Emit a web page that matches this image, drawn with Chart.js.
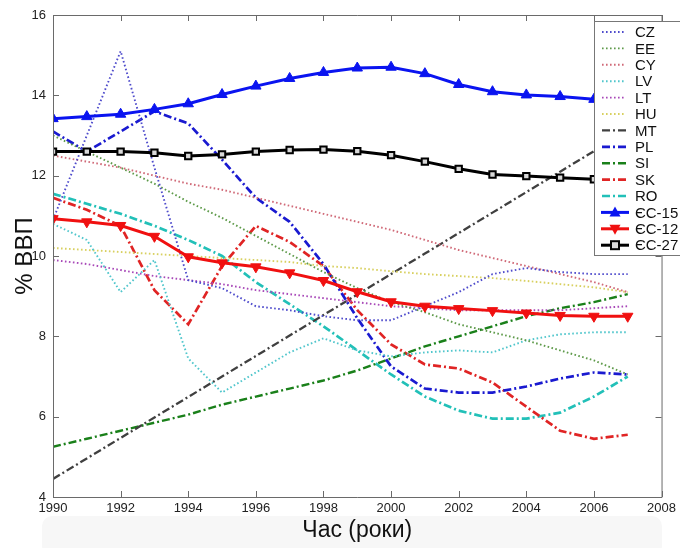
<!DOCTYPE html>
<html>
<head>
<meta charset="utf-8">
<script src="https://cdn.jsdelivr.net/npm/chart.js@4.4.1/dist/chart.umd.min.js"></script>
<style>
  html,body{margin:0;padding:0;background:#fff;}
  #wrap{width:680px;height:548px;}
</style>
</head>
<body>
<div id="wrap"><canvas id="myChart" width="680" height="548"></canvas></div>
<script>
'use strict';

// роки
let years=[1990,1991,1992,1993,1994,1995,1996,1997,1998,1999,2000,2001,2002,2003,2004,2005,2006,2007];

// % ВВП по країнах
let cz=[10.9,13.0,15.1,12.2,9.4,9.2,8.75,8.65,8.5,8.4,8.4,8.75,9.1,9.55,9.7,9.6,9.55,9.55];
let ee=[13.0,12.6,12.2,11.8,11.35,10.95,10.5,10.05,9.6,9.2,8.85,8.6,8.3,8.1,7.9,7.65,7.4,7.05];
let cy=[12.5,12.35,12.2,12.0,11.8,11.65,11.45,11.25,11.05,10.85,10.65,10.4,10.15,9.95,9.75,9.55,9.35,9.1];
let lv=[10.8,10.4,9.1,9.9,7.45,6.6,7.1,7.6,7.95,7.65,7.5,7.6,7.65,7.6,7.9,8.05,8.1,8.1];
let lt=[9.9,9.8,9.65,9.5,9.4,9.3,9.15,9.05,8.95,8.85,8.75,8.7,8.65,8.65,8.65,8.65,8.7,8.75];
let hu=[10.2,10.15,10.1,10.05,10.0,9.95,9.9,9.85,9.75,9.7,9.62,9.55,9.5,9.45,9.38,9.3,9.22,9.1];
let mt=[4.45,4.96,5.47,5.98,6.49,7.0,7.51,8.02,8.53,9.04,9.55,10.06,10.57,11.08,11.59,12.1,12.61,13.12];
let pl=[13.1,12.6,13.1,13.6,13.3,12.4,11.45,10.85,9.8,8.45,7.25,6.7,6.6,6.6,6.75,6.95,7.1,7.05];
let si=[5.25,5.45,5.65,5.85,6.05,6.3,6.5,6.7,6.9,7.15,7.45,7.75,8.0,8.25,8.5,8.7,8.85,9.05];
let sk=[11.45,11.15,10.75,9.15,8.3,9.75,10.75,10.35,9.75,8.65,7.8,7.3,7.2,6.85,6.25,5.65,5.45,5.55];
let ro=[11.55,11.3,11.05,10.75,10.4,10.0,9.35,8.8,8.25,7.65,7.05,6.5,6.15,5.95,5.95,6.1,6.5,7.0];
let eu15=[13.42,13.47,13.53,13.65,13.79,14.02,14.23,14.42,14.57,14.68,14.7,14.54,14.27,14.09,14.01,13.97,13.9,13.85];
let eu12=[10.93,10.85,10.76,10.49,9.98,9.83,9.73,9.58,9.39,9.11,8.86,8.75,8.69,8.64,8.58,8.52,8.5,8.5];
let eu27=[12.6,12.6,12.6,12.57,12.49,12.53,12.6,12.64,12.65,12.61,12.51,12.35,12.17,12.03,11.99,11.95,11.91,11.9];

let xTicks=[1990,1992,1994,1996,1998,2000,2002,2004,2006,2008];
let yTicks=[4,6,8,10,12,14,16];

let dotted=[1.6,2.4];
let dashDot=[8,3,2,3];

function points(values){
  let arr=[];
  for(let i=0;i<years.length;i++){
    arr.push({x:years[i],y:values[i]});
  }
  return arr;
}

function line(label,values,color,dash,width){
  return {
    label:label,
    data:points(values),
    borderColor:color,
    backgroundColor:color,
    borderDash:dash,
    borderWidth:width,
    pointRadius:0,
    fill:false,
    tension:0,
    order:1
  };
}

function euLine(label,values,color,style,rotation,fillColor){
  return {
    label:label,
    data:points(values),
    borderColor:color,
    backgroundColor:color,
    borderWidth:3,
    pointStyle:style,
    pointRotation:rotation,
    pointRadius:style=='rect'?4.5:6,
    pointBorderWidth:style=='rect'?2:1,
    pointBackgroundColor:fillColor,
    pointBorderColor:color,
    fill:false,
    tension:0,
    order:0
  };
}

let datasets=[
  line('CZ',cz,'#4f4ccc',dotted,1.9),
  line('EE',ee,'#5e9a4a',dotted,1.9),
  line('CY',cy,'#d06a78',dotted,1.9),
  line('LV',lv,'#50c6cc',dotted,1.9),
  line('LT',lt,'#a848b8',dotted,1.9),
  line('HU',hu,'#d8d060',dotted,1.9),
  line('MT',mt,'#404040',dashDot,2.3),
  line('PL',pl,'#1a1ad0',dashDot,2.7),
  line('SI',si,'#1a801a',dashDot,2.4),
  line('SK',sk,'#e02424',dashDot,2.7),
  line('RO',ro,'#22c0b8',dashDot,2.7),
  euLine('ЄС-15',eu15,'#0a14f0','triangle',0,'#0a14f0'),
  euLine('ЄС-12',eu12,'#f01010','triangle',180,'#f01010'),
  euLine('ЄС-27',eu27,'#000000','rect',0,'#d8d8d8')
];

// рамка, внутрішні поділки, сіра смуга під підписом осі
const framePlugin={
  id:'frame',
  beforeDraw(chart){
    let ctx=chart.ctx;
    ctx.save();
    ctx.fillStyle='#f7f7f7';
    ctx.beginPath();
    ctx.roundRect(42,516,620,40,10);
    ctx.fill();
    ctx.restore();
  },
  afterDatasetsDraw(chart){
    let ctx=chart.ctx;
    let a=chart.chartArea;
    let xs=chart.scales.x, ys=chart.scales.y;
    ctx.save();
    ctx.strokeStyle='#6a6a6a';
    ctx.lineWidth=1;
    ctx.beginPath();
    ctx.rect(a.left+0.5,a.top+0.5,a.right-a.left,a.bottom-a.top);
    for(let i=0;i<xTicks.length;i++){
      let px=Math.round(xs.getPixelForValue(xTicks[i]))+0.5;
      ctx.moveTo(px,a.bottom);ctx.lineTo(px,a.bottom-6);
      ctx.moveTo(px,a.top);ctx.lineTo(px,a.top+6);
    }
    for(let i=0;i<yTicks.length;i++){
      let py=Math.round(ys.getPixelForValue(yTicks[i]))+0.5;
      ctx.moveTo(a.left,py);ctx.lineTo(a.left+6,py);
      ctx.moveTo(a.right,py);ctx.lineTo(a.right-6,py);
    }
    ctx.stroke();
    ctx.restore();
  }
};

// легенда всередині графіка, як у MATLAB
const legendPlugin={
  id:'boxLegend',
  afterDraw(chart){
    let ctx=chart.ctx;
    let left=594, top=21, rowH=16.4, firstY=32;
    let ds=chart.data.datasets;
    ctx.save();
    ctx.fillStyle='#ffffff';
    ctx.strokeStyle='#777777';
    ctx.lineWidth=1;
    ctx.fillRect(left+0.5,top+0.5,100,234);
    ctx.strokeRect(left+0.5,top+0.5,100,234);
    ctx.font='15px "Liberation Sans", Arial, sans-serif';
    ctx.textBaseline='middle';
    for(let i=0;i<ds.length;i++){
      let d=ds[i];
      let y=firstY+i*rowH;
      ctx.strokeStyle=d.borderColor;
      ctx.lineWidth=d.borderWidth;
      ctx.setLineDash(d.borderDash||[]);
      ctx.beginPath();
      if(d.pointStyle){ctx.moveTo(601,y);ctx.lineTo(629,y);}
      else{ctx.moveTo(602,y);ctx.lineTo(626,y);}
      ctx.stroke();
      ctx.setLineDash([]);
      if(d.pointStyle=='triangle'){
        let s=d.pointRotation==180?-1:1;
        ctx.fillStyle=d.borderColor;
        ctx.beginPath();
        ctx.moveTo(615,y-6*s);ctx.lineTo(620.5,y+4*s);ctx.lineTo(609.5,y+4*s);
        ctx.closePath();ctx.fill();
      }else if(d.pointStyle=='rect'){
        ctx.fillStyle=d.pointBackgroundColor;
        ctx.lineWidth=2;
        ctx.strokeStyle=d.borderColor;
        ctx.fillRect(611,y-4,8,8);ctx.strokeRect(611,y-4,8,8);
      }
      ctx.fillStyle='#111';
      ctx.fillText(d.label,635,y+1);
    }
    ctx.restore();
  }
};

const config={
  type:'line',
  data:{datasets:datasets},
  options:{
    responsive:false,
    animation:false,
    devicePixelRatio:1,
    layout:{padding:{top:15,right:18,left:0,bottom:0}},
    plugins:{legend:{display:false},tooltip:{enabled:false}},
    scales:{
      x:{
        type:'linear',
        min:1990,max:2008,
        afterBuildTicks(scale){scale.ticks=xTicks.map(v=>({value:v}));},
        afterFit(scale){scale.height=51;},
        grid:{display:false,drawTicks:false},
        border:{display:false},
        ticks:{padding:4,color:'#222',font:{size:13,family:'"Liberation Sans", Arial, sans-serif'},callback:v=>String(v),maxRotation:0},
        title:{display:true,text:'Час (роки)',color:'#111',font:{size:23,family:'"Liberation Sans", Arial, sans-serif'},padding:{top:0,bottom:4}}
      },
      y:{
        min:4,max:16,
        afterBuildTicks(scale){scale.ticks=yTicks.map(v=>({value:v}));},
        afterFit(scale){scale.width=53;},
        grid:{display:false,drawTicks:false},
        border:{display:false},
        ticks:{padding:7,color:'#222',font:{size:13,family:'"Liberation Sans", Arial, sans-serif'}},
        title:{display:true,text:'% ВВП',color:'#111',font:{size:24,family:'"Liberation Sans", Arial, sans-serif'},padding:{top:11,bottom:0}}
      }
    }
  },
  plugins:[framePlugin,legendPlugin]
};

const myChart=new Chart(document.getElementById('myChart'),config);
</script>
</body>
</html>
